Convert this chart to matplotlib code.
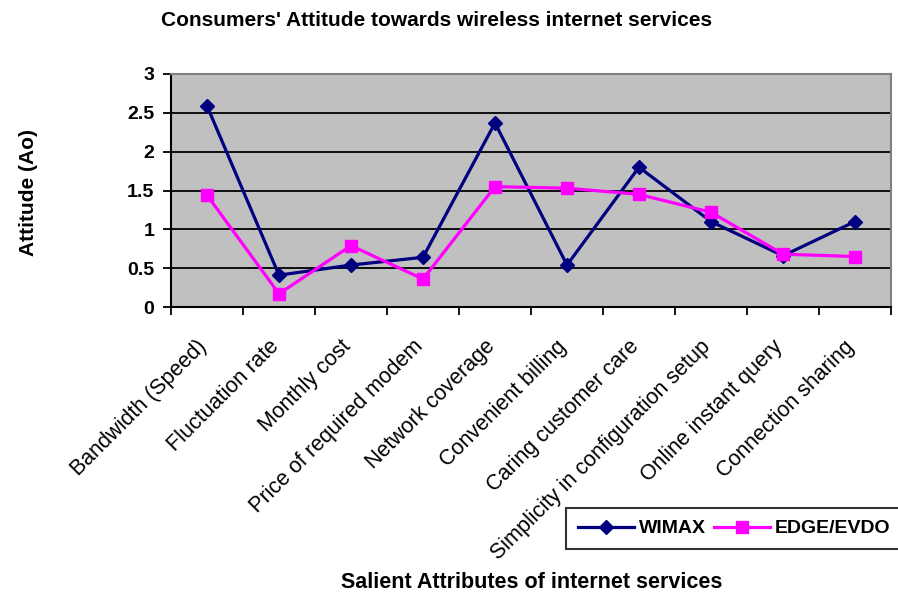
import matplotlib.pyplot as plt
import matplotlib.transforms as mtransforms
import numpy as np

plt.rcParams['font.family'] = ['Liberation Sans', 'DejaVu Sans']

categories = [
    "Bandwidth (Speed)",
    "Fluctuation rate",
    "Monthly cost",
    "Price of required modem",
    "Network coverage",
    "Convenient billing",
    "Caring customer care",
    "Simplicity in configuration setup",
    "Online instant query",
    "Connection sharing",
]
wimax = [2.59, 0.41, 0.54, 0.64, 2.37, 0.54, 1.80, 1.10, 0.66, 1.10]
edge_evdo = [1.44, 0.17, 0.79, 0.36, 1.55, 1.53, 1.45, 1.22, 0.68, 0.65]
y_ticks = [0, 0.5, 1, 1.5, 2, 2.5, 3]
y_tick_labels = ["0", "0.5", "1", "1.5", "2", "2.5", "3"]

fig = plt.figure(figsize=(8.98, 5.97), dpi=100)
ax = fig.add_axes([171 / 898, 1 - 307 / 597, (891 - 171) / 898, (307 - 74) / 597])
ax.set_facecolor("#c0c0c0")

x = np.arange(len(categories))
ax.plot(x, wimax, color="#000080", lw=2.3, marker="D", ms=7, label="WIMAX", zorder=3)
ax.plot(x, edge_evdo, color="#ff00ff", lw=2.3, marker="s", ms=8, label="EDGE/EVDO", zorder=3)

ax.set_xlim(-0.5, len(categories) - 0.5)
ax.set_ylim(0, 3)

for yv in y_ticks[1:-1]:
    ax.axhline(yv, color="black", lw=1.3, zorder=1)

ax.set_yticks(y_ticks)
ax.set_yticklabels(y_tick_labels, fontsize=14, fontweight="bold")
ax.tick_params(axis="y", direction="out", length=6, width=1.3, pad=6)

ax.set_xticks(x)
ax.set_xticklabels(categories, rotation=45, ha="right", va="top",
                   rotation_mode="anchor", fontsize=15.5)
ax.set_xticks(np.arange(-0.5, len(categories)), minor=True)
ax.tick_params(axis="x", which="major", length=0, pad=21)
ax.tick_params(axis="x", which="minor", direction="out", length=6, width=1.3)
shift = mtransforms.ScaledTranslation(-11 / 100, 0, fig.dpi_scale_trans)
for lbl in ax.get_xticklabels():
    lbl.set_transform(lbl.get_transform() + shift)

for side in ["left", "bottom"]:
    ax.spines[side].set_color("black")
    ax.spines[side].set_linewidth(1.5)
for side in ["top", "right"]:
    ax.spines[side].set_color("#808080")
    ax.spines[side].set_linewidth(1.5)

fig.text(437 / 898, 1 - 21 / 597, "Consumers' Attitude towards wireless internet services",
         ha="center", va="center", fontsize=15, fontweight="bold")
fig.text(28 / 898, 1 - 192 / 597, "Attitude (Ao)", rotation=90,
         ha="center", va="center", fontsize=15, fontweight="bold")
fig.text(532 / 898, 1 - 582 / 597, "Salient Attributes of internet services",
         ha="center", va="center", fontsize=15.5, fontweight="bold")

leg = fig.legend(loc="lower left", bbox_to_anchor=(566 / 898, 1 - 549 / 597),
                 ncol=2, frameon=True, fancybox=False, edgecolor="black",
                 prop={"weight": "bold", "size": 14}, handlelength=2.9,
                 columnspacing=0.4, handletextpad=0.25, borderpad=0.6,
                 borderaxespad=0)
leg.get_frame().set_linewidth(1.5)

fig.savefig("out.png", dpi=100)
